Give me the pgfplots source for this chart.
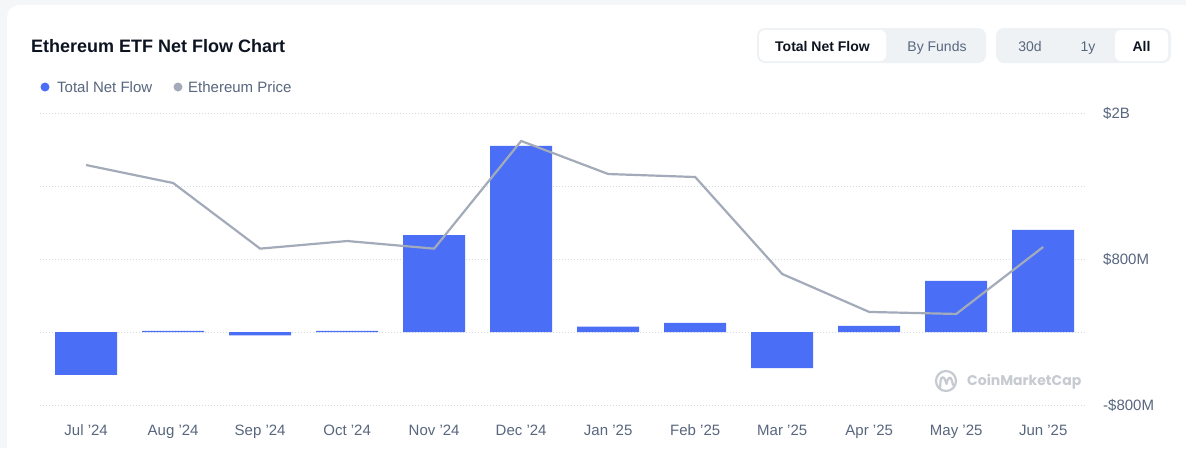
\documentclass[border=0pt]{standalone}
\usepackage{pgfplots}
\pgfplotsset{compat=1.18}
\usepackage{fontspec}
\setmainfont{Liberation Sans}
\newfontfamily\poppins{Poppins}
\definecolor{bgout}{HTML}{F5F6F8}
\definecolor{barblue}{HTML}{4A6EF5}
\definecolor{linegray}{HTML}{A3ABBA}
\definecolor{gridc}{HTML}{D6DAE0}
\definecolor{titlec}{HTML}{0D1421}
\definecolor{txtgray}{HTML}{58667E}
\definecolor{btnbg}{HTML}{EFF2F5}
\definecolor{wm}{HTML}{C6CAD1}
\begin{document}
\begin{tikzpicture}
\useasboundingbox (0pt,0pt) rectangle (1186pt,-448pt);
\fill[bgout] (0pt,0pt) rectangle (1186pt,-448pt);
\begin{scope}[x=1pt,y=-1pt]
\fill[white,rounded corners=12pt] (7,5) rectangle (1230,490);
% title
\node[anchor=base west,inner sep=0pt,text=titlec] at (31,52.5) {\fontsize{18}{21}\selectfont\bfseries Ethereum ETF Net Flow Chart};
% legend
\fill[barblue] (45,87) circle (4.5);
\node[anchor=base west,inner sep=0pt,text=txtgray] at (57,92.4) {\fontsize{15}{18}\selectfont Total Net Flow};
\fill[linegray] (178,87) circle (4.5);
\node[anchor=base west,inner sep=0pt,text=txtgray] at (188,92.4) {\fontsize{15}{18}\selectfont Ethereum Price};
% buttons
\fill[btnbg,rounded corners=8pt] (757,28) rectangle (986,63);
\fill[white,rounded corners=6pt] (759,30) rectangle (886,61);
\node[anchor=base,text=titlec,inner sep=0pt] at (822.5,51) {\fontsize{14}{16}\selectfont\bfseries Total Net Flow};
\node[anchor=base,text=txtgray,inner sep=0pt] at (937,51) {\fontsize{14}{16}\selectfont By Funds};
\fill[btnbg,rounded corners=8pt] (996,28) rectangle (1171,63);
\fill[white,rounded corners=6pt] (1115,30) rectangle (1168,61);
\node[anchor=base,text=txtgray,inner sep=0pt] at (1030,51) {\fontsize{14}{16}\selectfont 30d};
\node[anchor=base,text=txtgray,inner sep=0pt] at (1088,51) {\fontsize{14}{16}\selectfont 1y};
\node[anchor=base,text=titlec,inner sep=0pt] at (1141.5,51) {\fontsize{14}{16}\selectfont\bfseries All};
% watermark
\draw[wm,line width=2.2pt] (946,381) circle (10);
\draw[wm,line width=2.2pt,line join=round,line cap=round] (940,389) -- (940.5,381) .. controls (941,376) and (944,376) .. (945.5,381) -- (946.5,384) .. controls (948,376) and (951,376) .. (952,381) -- (953,385);
\node[anchor=west,inner sep=0pt,text=wm] at (967,382) {\poppins\fontsize{14}{16}\selectfont\bfseries CoinMarketCap};
\end{scope}
\begin{axis}[
  scale only axis, width=1045pt, height=292pt,
  at={(40pt,-405pt)}, anchor=south west,
  xmin=-0.53, xmax=11.48, ymin=-0.8, ymax=2.4,
  axis line style={draw=none}, major tick length=0pt,
  ymajorgrids, grid style={gridc, line width=1pt, dash pattern=on 1pt off 2pt},
  xtick={0,1,2,3,4,5,6,7,8,9,10,11},
  xticklabels={Jul '24,Aug '24,Sep '24,Oct '24,Nov '24,Dec '24,Jan '25,Feb '25,Mar '25,Apr '25,May '25,Jun '25},
  xticklabel style={anchor=base, inner sep=0pt, yshift=-30.5pt, text=txtgray, font=\fontsize{15}{18}\selectfont},
  ytick={-0.8,0,0.8,1.6,2.4},
  yticklabels={-\$800M,,\$800M,,\$2B},
  yticklabel pos=right,
  yticklabel style={anchor=base west, inner sep=0pt, xshift=18pt, yshift=-5.3pt, text=txtgray, font=\fontsize{15}{18}\selectfont},
]
\addplot[ybar, bar width=62pt, fill=barblue, draw=none] coordinates {
(0,-0.47) (1,0.012) (2,-0.038) (3,0.012) (4,1.063) (5,2.04)
(6,0.058) (7,0.10) (8,-0.395) (9,0.066) (10,0.56) (11,1.12)};
\end{axis}
\begin{axis}[
  scale only axis, width=1045pt, height=292pt,
  at={(40pt,-405pt)}, anchor=south west,
  xmin=-0.53, xmax=11.48, ymin=600, ymax=4400,
  hide axis,
]
\addplot[linegray, line width=2.2pt, no marks] coordinates {
(0,3723) (1,3489) (2,2635) (3,2734) (4,2635) (5,4036)
(6,3606) (7,3567) (8,2305) (9,1811) (10,1785) (11,2657)};
\end{axis}
\end{tikzpicture}
\end{document}
